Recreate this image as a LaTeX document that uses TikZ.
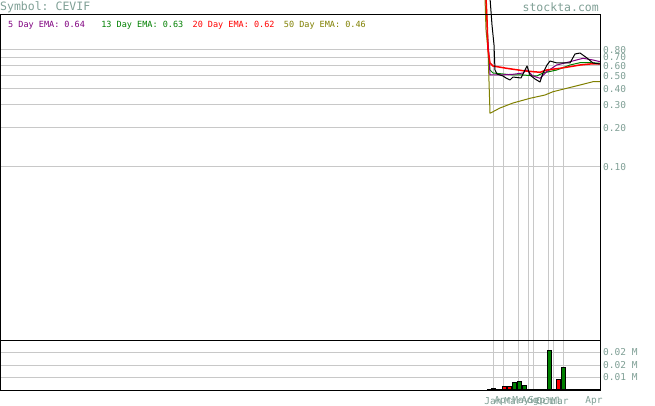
\documentclass[tikz,border=0pt]{standalone}
\usepackage{fontspec}
\setmonofont{DejaVu Sans Mono}
\usepackage{tikz}
\usetikzlibrary{positioning}
\definecolor{axisgrey}{RGB}{128,160,150}
\definecolor{gridgrey}{RGB}{200,200,200}
\definecolor{emapurple}{RGB}{128,0,128}
\definecolor{emagreen}{RGB}{0,128,0}
\definecolor{emared}{RGB}{255,0,0}
\definecolor{emaolive}{RGB}{128,128,0}

\begin{document}
\begin{tikzpicture}[x=1pt,y=-1pt,
		gridline/.style={draw=gridgrey,line width=1pt},
		frameline/.style={draw=black,line width=1pt},
		emaline/.style={line width=1pt,line join=round},
		volbar/.style={draw=black,line width=0.4pt},
		axislabel/.style={font=\ttfamily\fontsize{9.5}{9.5}\selectfont,text=axisgrey,inner sep=0pt},
		legendlabel/.style={font=\ttfamily\fontsize{8.5}{8.5}\selectfont,inner sep=0pt,anchor=west},
		titlelabel/.style={font=\ttfamily\fontsize{11.5}{11.5}\selectfont,text=axisgrey,inner sep=0pt}]
		\useasboundingbox[fill=white] (0,0) rectangle (655,406);
		
		\node[titlelabel,anchor=west] (sym) at (0,7) {Symbol: CEVIF};
		\node[titlelabel,anchor=east] (site) at (599,7) {stockta.com};
		
		\node[legendlabel,text=emapurple] (ema5) at (8,25) {5 Day EMA: 0.64};
		\node[legendlabel,text=emagreen,right=16pt of ema5] (ema13) {13 Day EMA: 0.63};
		\node[legendlabel,text=emared,right=9pt of ema13] (ema20) {20 Day EMA: 0.62};
		\node[legendlabel,text=emaolive,right=9pt of ema20] (ema50) {50 Day EMA: 0.46};
		
		\foreach \v/\y in {0.80/50,0.70/57.5,0.60/66,0.50/76,0.40/89,0.30/105,0.20/128,0.10/167}
		{
			\draw[gridline] (0,\y)--(600,\y);
			\node[axislabel,anchor=west] (p\v) at (603,\y) {\v};
		}
		\foreach \y/\t [count=\i] in {352/0.02 M,365/0.02 M,377/0.01 M}
		{
			\draw[gridline] (0,\y)--(600,\y);
			\node[axislabel,anchor=west] (v\i) at (603,\y) {\t};
		}
		\foreach \x in {493,503,518,528,533,548,553,563}
		{
			\draw[gridline] (\x,50)--(\x,390);
		}
		\foreach \x/\m [count=\i] in {493/Jan,503/Apr,513/Mar,521/May,530/Aug,537/Sep,545/Oct,553/Jul,560/Mar,594/Apr}
		{
			\node[axislabel] (m\i) at (\x,401) {\m};
		}
		
		\foreach \xl/\t/\c in {491.5/388.3/emagreen,501.7/386.5/emared,506.7/386.5/emared,511.7/382.3/emagreen,516.7/381/emagreen,521.7/385/emagreen,546.7/350/emagreen,556.5/379/emared,561.5/367/emagreen}
		{
			\draw[volbar,fill=\c] (\xl,\t) rectangle ++(4,390-\t);
		}
		
		\draw[emaline,emaolive] plot coordinates {(485,-2) (486,30) (488,50) (490,113.3) (500,108) (513,103) (530,98.3) (545,95) (553,91.7) (566.7,88.3) (580,85) (593,81.7) (600,81.5)};
		\draw[emaline,emagreen] plot coordinates {(486,-2) (488,45) (489,60) (490,70) (493,73) (513,75) (523,75) (536.7,76) (543,73) (556.7,70) (570,65) (580,62.7) (590,62.7) (600,63.3)};
		\draw[emaline,emapurple] plot coordinates {(487,30) (489,55) (490,75) (500,75) (513,74.3) (523,73) (526.7,70) (533,76) (540,78.3) (546.7,71.7) (556.7,65) (570,61.7) (583,58.3) (593,60) (600,61.7)};
		\draw[emaline,emared,line width=1.5pt] plot coordinates {(486,-2) (487,20) (488,50) (490,63) (493,66) (506.7,68.3) (523,70.7) (540,72.3) (546.7,70) (560,68.3) (570,66.7) (580,65) (590,64) (600,64)};
		\draw[emaline,black] plot coordinates {(490,-2) (492,25) (494,45) (495,70) (497,74) (503,76) (506,78) (510,80) (513,77) (521,78) (525,70) (527,66) (530,75) (535,79) (540,82) (543,73) (547,65) (550,61) (557,63) (570,63) (575,54) (580,53) (587,58) (593,63) (600,64)};
		
		\draw[frameline] (0,15)--(600,15)--(600,390)--(0,390)--cycle;
		\draw[frameline] (0,340)--(600,340);
		\draw[frameline,line width=1.4pt] (487,390)--(600,390);
	\end{tikzpicture}
\end{document}
